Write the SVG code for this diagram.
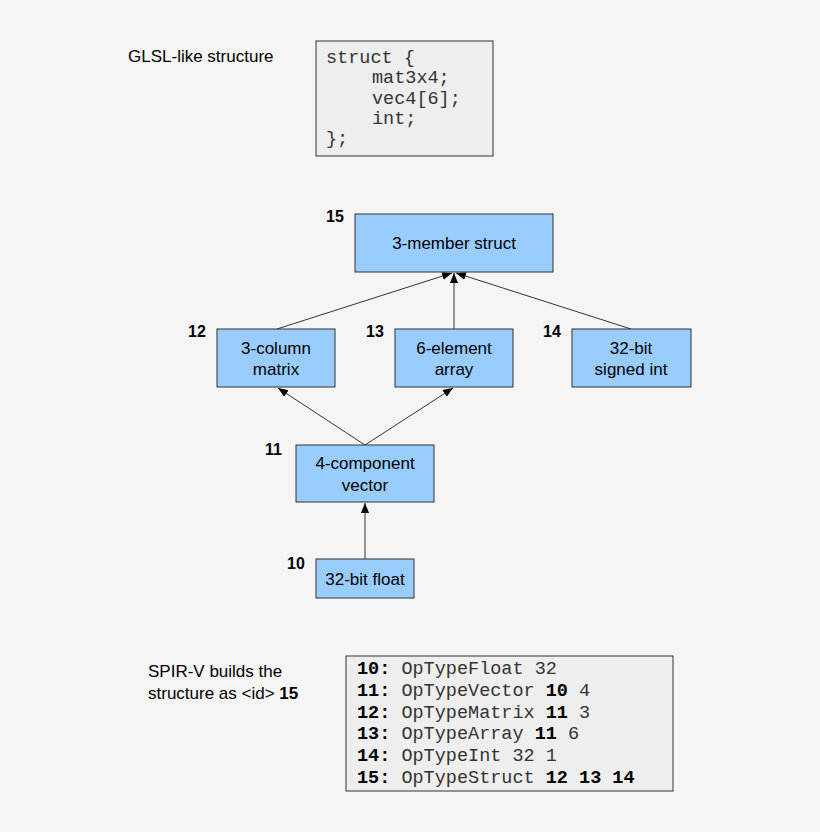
<svg xmlns="http://www.w3.org/2000/svg" width="820" height="832" viewBox="0 0 820 832">
<style>
.n{fill:#99ccff;stroke:#333;stroke-width:1}
.t{font-family:"Liberation Sans",Arial,sans-serif;font-size:17px;fill:#000;text-anchor:middle}
.l{font-family:"Liberation Sans",Arial,sans-serif;font-size:16px;font-weight:bold;fill:#000}
.m{font-family:"Liberation Mono","Courier New",monospace;font-size:18.5px;fill:#333}
.b{font-weight:bold;fill:#000}
.c{stroke:#333;stroke-width:1;fill:none;marker-end:url(#a)}
.p{font-family:"Liberation Sans",Arial,sans-serif;font-size:17px;fill:#000}
</style>
<defs><marker id="a" viewBox="0 0 10 10" refX="10" refY="5" markerWidth="10" markerHeight="10" markerUnits="userSpaceOnUse" orient="auto"><path d="M0,1 L10,5 L0,9 Z" fill="#000"/></marker></defs>
<rect width="820" height="832" fill="#f5f5f5"/>
<g id="glsl">
<text class="p" x="128" y="62">GLSL-like structure</text>
<rect x="316" y="41" width="177" height="115" fill="#eeeeee" stroke="#333"/>
<text class="m" x="326" y="63">struct {</text>
<text class="m" x="372" y="83">mat3x4;</text>
<text class="m" x="372" y="104">vec4[6];</text>
<text class="m" x="372" y="124">int;</text>
<text class="m" x="326" y="144">};</text>
</g>
<g id="connectors">
<line class="c" x1="277" y1="329" x2="452" y2="273"/>
<line class="c" x1="454" y1="329" x2="454" y2="273"/>
<line class="c" x1="631" y1="329" x2="456" y2="273"/>
<line class="c" x1="365" y1="445" x2="278" y2="388"/>
<line class="c" x1="365" y1="445" x2="453" y2="388"/>
<line class="c" x1="365" y1="559" x2="365" y2="503"/>
</g>
<g id="n15"><rect class="n" x="355" y="214" width="198" height="58"/><text class="t" x="454" y="249">3-member struct</text><text class="l" x="326" y="222">15</text></g>
<g id="n12"><rect class="n" x="217" y="329" width="118" height="58"/><text class="t" x="276" y="354">3-column</text><text class="t" x="276" y="375">matrix</text><text class="l" x="188" y="337">12</text></g>
<g id="n13"><rect class="n" x="395" y="329" width="118" height="58"/><text class="t" x="454" y="354">6-element</text><text class="t" x="454" y="375">array</text><text class="l" x="366" y="337">13</text></g>
<g id="n14"><rect class="n" x="572" y="329" width="119" height="58"/><text class="t" x="631" y="354">32-bit</text><text class="t" x="631" y="375">signed int</text><text class="l" x="543" y="337">14</text></g>
<g id="n11"><rect class="n" x="296" y="445" width="138" height="57"/><text class="t" x="365" y="469">4-component</text><text class="t" x="365" y="491">vector</text><text class="l" x="265" y="455">11</text></g>
<g id="n10"><rect class="n" x="316" y="559" width="98" height="39"/><text class="t" x="365" y="585">32-bit float</text><text class="l" x="287" y="569">10</text></g>
<g id="spirv">
<text class="p" x="148" y="677">SPIR-V builds the</text>
<text class="p" x="148" y="699">structure as &lt;id&gt; <tspan font-weight="bold">15</tspan></text>
<rect x="346" y="656" width="327" height="135" fill="#eeeeee" stroke="#333"/>
<text class="m" x="357" y="674"><tspan class="b">10:</tspan> OpTypeFloat 32</text>
<text class="m" x="357" y="696"><tspan class="b">11:</tspan> OpTypeVector <tspan class="b">10</tspan> 4</text>
<text class="m" x="357" y="718"><tspan class="b">12:</tspan> OpTypeMatrix <tspan class="b">11</tspan> 3</text>
<text class="m" x="357" y="739"><tspan class="b">13:</tspan> OpTypeArray <tspan class="b">11</tspan> 6</text>
<text class="m" x="357" y="761"><tspan class="b">14:</tspan> OpTypeInt 32 1</text>
<text class="m" x="357" y="783"><tspan class="b">15:</tspan> OpTypeStruct <tspan class="b">12 13 14</tspan></text>
</g>
</svg>
